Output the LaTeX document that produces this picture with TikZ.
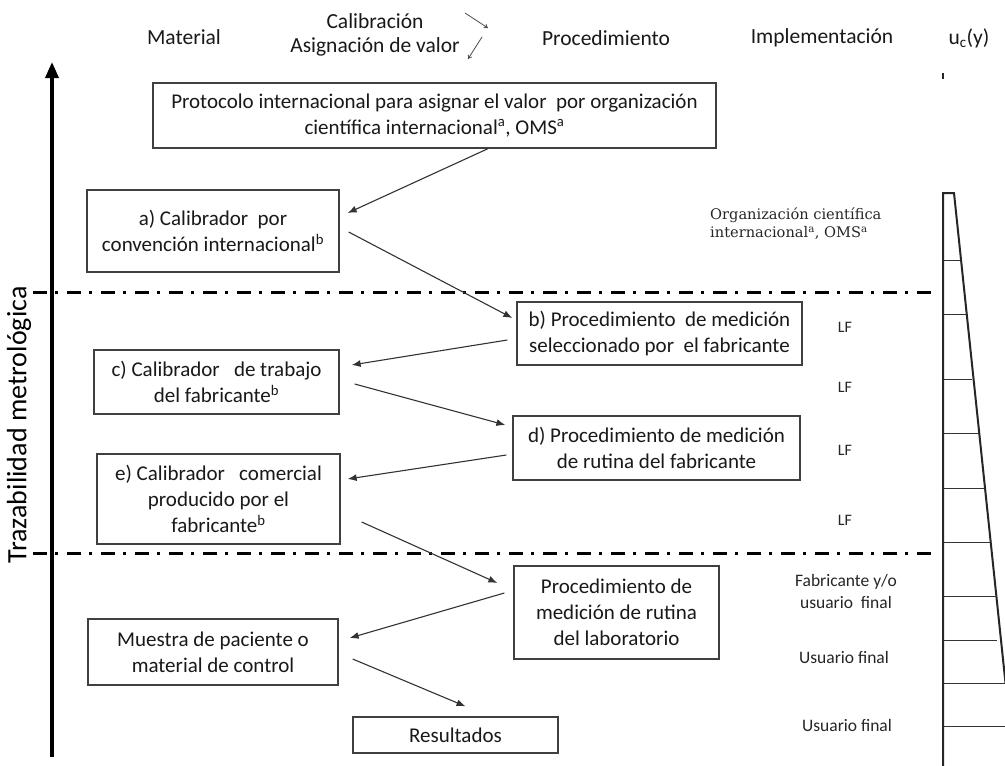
\documentclass[tikz,border=0pt]{standalone}
\usepackage{fontspec}
\setmainfont{Carlito}
\newfontfamily\orgfont{DejaVu Serif}
\usetikzlibrary{arrows.meta,calc}
\begin{document}
\begin{tikzpicture}[x=1pt,y=-1pt,
  box/.style={draw=black!75,line width=1.3pt,align=center,inner sep=0pt,font=\fontsize{21}{26}\selectfont,text=black!90},
  arr/.style={draw=black!80,line width=1.1pt,-{Latex[length=9pt,width=7pt]}},
  harr/.style={draw=black!70,line width=0.8pt,-{To[length=4pt,width=5pt]}},
  hdr/.style={font=\fontsize{21.5}{25}\selectfont,text=black!90,inner sep=0pt},
  side/.style={font=\fontsize{17.5}{22}\selectfont,align=center,text=black!85,inner sep=0pt},
  lf/.style={font=\fontsize{16}{18}\selectfont,text=black!85,inner sep=0pt},
  dd/.style={line width=3pt,draw=black,dash pattern=on 14pt off 8pt on 3pt off 9pt},
  rung/.style={line width=1pt,draw=black!80},
]
\useasboundingbox (0,0) rectangle (1005,766);
\fill[white] (0,0) rectangle (1005,766);

% header
\node[hdr] (hmat) at (184,37) {Material};
\node[hdr] (hcal) at (375,21) {Calibración};
\node[hdr] (hasg) at (375,47) {Asignación de valor};
\node[hdr] (hproc) at (606,38) {Procedimiento};
\node[hdr] (himp) at (822,38) {Implementación};
\node[hdr] (huc) at (969,38) {u\textsubscript{c}(y)};
\coordinate (ha1) at (465,13); \coordinate (ha2) at (488,28);
\coordinate (hb1) at (482,37); \coordinate (hb2) at (468,59);
\draw[harr] (ha1) -- (ha2);
\draw[harr] (hb1) -- (hb2);

% vertical axis
\coordinate (axb) at (52,757); \coordinate (axt) at (52,62);
\draw[line width=3.5pt,-{Triangle[length=16pt,width=13pt]}] (axb) -- (axt);
\node[rotate=90,font=\fontsize{28}{30}\selectfont,inner sep=0pt] (traz) at (19,425) {Trazabilidad metrológica};

% dash-dot separators
\coordinate (s1a) at (33,292); \coordinate (s1b) at (932,292);
\coordinate (s2a) at (33,553); \coordinate (s2b) at (932,553);
\draw[dd] (s1a) -- (s1b);
\draw[dd] (s2a) -- (s2b);

% boxes
\node[box,minimum width=563pt,minimum height=65pt] (prot) at (434.5,115.5)
  {Protocolo internacional para asignar el valor\ \ por organización\\científica internacional\textsuperscript{a}, OMS\textsuperscript{a}};
\node[box,minimum width=252pt,minimum height=82pt] (a) at (213,231)
  {a) Calibrador\ \ por\\convención internacional\textsuperscript{b}};
\node[box,minimum width=285pt,minimum height=63pt] (b) at (659.5,333.5)
  {b) Procedimiento\ \ de medición\\seleccionado por\ \ el fabricante};
\node[box,minimum width=245pt,minimum height=64pt] (c) at (216.5,382)
  {c) Calibrador\ \ \ de trabajo\\del fabricante\textsuperscript{b}};
\node[box,minimum width=287pt,minimum height=64pt] (d) at (656.5,448)
  {d) Procedimiento de medición\\de rutina del fabricante};
\node[box,minimum width=243pt,minimum height=90pt] (e) at (218.5,499)
  {e) Calibrador\ \ \ comercial\\producido por el\\fabricante\textsuperscript{b}};
\node[box,minimum width=205pt,minimum height=93pt] (lab) at (616.5,612.5)
  {Procedimiento de\\medición de rutina\\del laboratorio};
\node[box,minimum width=250pt,minimum height=66pt] (m) at (213,652)
  {Muestra de paciente o\\material de control};
\node[box,minimum width=205pt,minimum height=36pt] (r) at (455.5,735)
  {Resultados};

% connectors
\draw[arr] ($(prot.south)+(53.5,0)$) -- ($(a.east)+(8,-18)$);
\draw[arr] ($(a.east)+(9,1)$) -- ($(b.west)+(-4,-15.5)$);
\draw[arr] ($(b.west)+(-9,6.5)$) -- ($(c.east)+(12,-17)$);
\draw[arr] ($(c.east)+(15,2)$) -- ($(d.west)+(-7,-23)$);
\draw[arr] ($(d.west)+(-6,7)$) -- ($(e.east)+(7,-20)$);
\draw[arr] ($(e.east)+(21,23)$) -- ($(lab.west)+(-16,-29.5)$);
\draw[arr] ($(lab.west)+(-9,-19.5)$) -- ($(m.east)+(11,-14)$);
\draw[arr] ($(m.east)+(14,7)$) -- ($(r.north)+(10,-10)$);

% implementation column
\node[anchor=west,align=left,inner sep=0pt,font=\orgfont\fontsize{14.6}{18}\selectfont,text=black!85] (org) at (710,224)
  {Organización científica\\internacional\textsuperscript{a}, OMS\textsuperscript{a}};
\node[lf] (lf1) at (845,327) {LF};
\node[lf] (lf2) at (845,387) {LF};
\node[lf] (lf3) at (845,450) {LF};
\node[lf] (lf4) at (845,520) {LF};
\node[side] (fab) at (846,591) {Fabricante y/o\\usuario\ \ final};
\node[side] (uf1) at (844,657) {Usuario final};
\node[side] (uf2) at (847,725) {Usuario final};

% uncertainty ladder
\draw[line width=1.8pt,draw=black!85] (943,73) -- (943,79);
\draw[line width=2pt,draw=black!85] (943,766) -- (943,193) -- (954,193) -- (1005.5,683);
\foreach \yy/\xx in {260/961,314/967,379/972,433/979,488/985,542/990,596/996,640/997,683/1005,726/1005}
  \draw[rung] (943,\yy) -- (\xx,\yy);
\end{tikzpicture}
\end{document}
